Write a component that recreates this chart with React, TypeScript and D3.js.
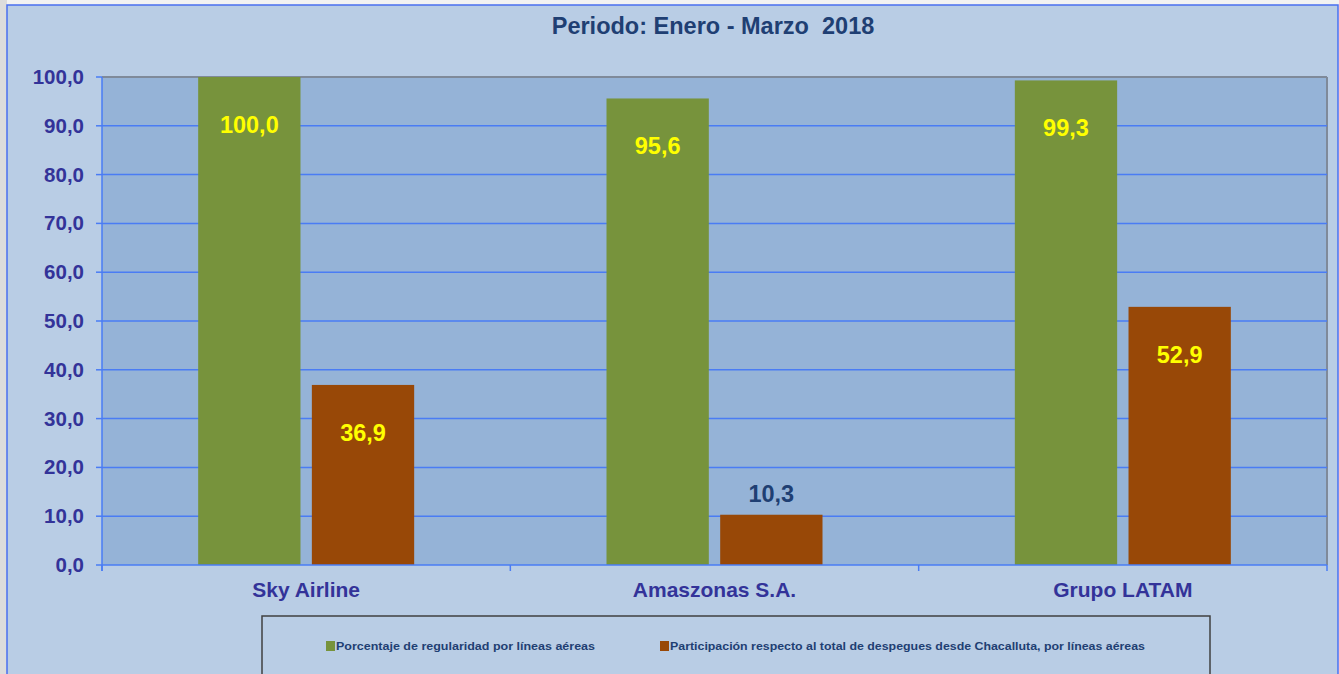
import React from 'react';
import * as d3 from 'd3';

const categories = ['Sky Airline', 'Amaszonas S.A.', 'Grupo LATAM'];
const regularidad = [100.0, 95.6, 99.3];
const participacion = [36.9, 10.3, 52.9];
const seriesNames = [
  'Porcentaje de regularidad por líneas aéreas',
  'Participación respecto al total de despegues desde Chacalluta, por líneas aéreas',
];
const yTicks = [0, 10, 20, 30, 40, 50, 60, 70, 80, 90, 100];

const W = 1339;
const H = 674;
const plot = { left: 102, right: 1327, top: 77, bottom: 565 };
const colors = ['#77933c', '#984807'];
const fmt = (v: number) => v.toFixed(1).replace('.', ',');

export default function App() {
  const x = d3.scaleBand<string>().domain(categories).range([plot.left, plot.right]);
  const y = d3.scaleLinear().domain([0, 100]).range([plot.bottom, plot.top]);
  const inner = d3.scaleBand<number>().domain([0, 1]).range([0, 216]).paddingInner(0.1);
  const series = [regularidad, participacion];
  const font = 'Liberation Sans, Arial, sans-serif';

  return (
    <svg width={W} height={H} style={{ position: 'absolute', left: 0, top: 0 }} fontFamily={font}>
      <rect x={0} y={0} width={W} height={H} fill="#f2f2f2" />
      <rect x={0} y={0} width={7} height={H} fill="#dcdcdc" />
      <rect x={7} y={5} width={W - 8} height={H} fill="#b9cde5" stroke="#4a6ff0" strokeWidth={1.5} />
      <text x={713} y={34} textAnchor="middle" fontSize={23.5} fontWeight="bold" fill="#1f3f73" style={{ whiteSpace: 'pre' }}>
        {'Periodo: Enero - Marzo  2018'}
      </text>

      <rect x={plot.left} y={plot.top} width={plot.right - plot.left} height={plot.bottom - plot.top} fill="#95b3d7" />
      <line x1={plot.left} x2={plot.right} y1={plot.top} y2={plot.top} stroke="#7f8a9a" strokeWidth={2} />
      <line x1={plot.right} x2={plot.right} y1={plot.top} y2={plot.bottom} stroke="#7f8a9a" strokeWidth={2} />
      {yTicks.map(t => (
        <g key={t}>
          {t > 0 && t < 100 && (
            <line x1={plot.left} x2={plot.right} y1={y(t)} y2={y(t)} stroke="#4a7cf4" strokeWidth={1.5} />
          )}
          <line x1={plot.left - 6} x2={plot.left} y1={y(t)} y2={y(t)} stroke="#4a7cf4" strokeWidth={1.5} />
          <text x={84} y={y(t) + 7} textAnchor="end" fontSize={20.5} fontWeight="bold" fill="#333399">
            {fmt(t)}
          </text>
        </g>
      ))}

      {categories.map((c, ci) => {
        const gx = (x(c) as number) + (x.bandwidth() - 216) / 2;
        return (
          <g key={c}>
            {series.map((s, si) => {
              const bx = gx + (inner(si) as number);
              const v = s[ci];
              const inside = v > 20;
              return (
                <g key={si}>
                  <rect x={bx} y={y(v)} width={inner.bandwidth()} height={y(0) - y(v)} fill={colors[si]} />
                  <text
                    x={bx + inner.bandwidth() / 2}
                    y={inside ? y(v) + 56 : y(v) - 13}
                    textAnchor="middle"
                    fontSize={23.5}
                    fontWeight="bold"
                    fill={inside ? '#ffff00' : '#1f3f73'}
                  >
                    {fmt(v)}
                  </text>
                </g>
              );
            })}
            <text x={(x(c) as number) + x.bandwidth() / 2} y={597} textAnchor="middle" fontSize={21} fontWeight="bold" fill="#333399">
              {c}
            </text>
          </g>
        );
      })}

      <line x1={plot.left} x2={plot.left} y1={plot.top} y2={plot.bottom + 6} stroke="#4a7cf4" strokeWidth={1.5} />
      <line x1={plot.left} x2={plot.right} y1={plot.bottom} y2={plot.bottom} stroke="#4a7cf4" strokeWidth={1.5} />
      {[...categories.map(c => x(c) as number), plot.right].map((t, i) => (
        <line key={i} x1={t} x2={t} y1={plot.bottom} y2={plot.bottom + 6} stroke="#4a7cf4" strokeWidth={1.5} />
      ))}

      <rect x={262} y={616} width={948} height={70} fill="#b9cde5" stroke="#404040" strokeWidth={1.5} />
      {seriesNames.map((n, i) => {
        const lx = i === 0 ? 326 : 660;
        return (
          <g key={n}>
            <rect x={lx} y={641} width={9} height={10} fill={colors[i]} />
            <text x={lx + 10} y={650} fontSize={11} fontWeight="bold" fill="#1f3f73" textLength={i === 0 ? 259 : 475} lengthAdjust="spacingAndGlyphs">
              {n}
            </text>
          </g>
        );
      })}
    </svg>
  );
}
